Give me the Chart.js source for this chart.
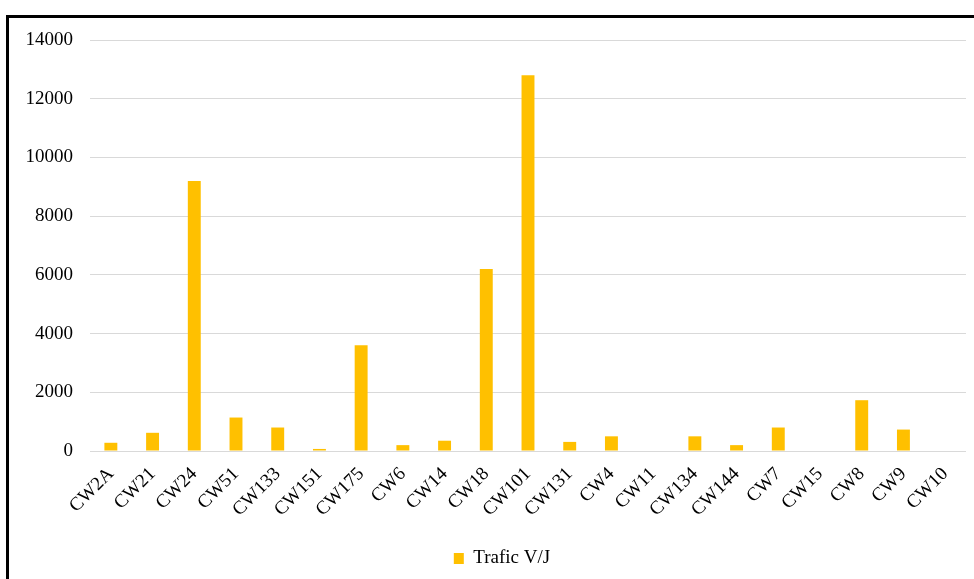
<!DOCTYPE html>
<html>
<head>
<meta charset="utf-8">
<script src="https://cdn.jsdelivr.net/npm/chart.js@4"></script>
<style>
  html, body { margin: 0; padding: 0; background: #fff; overflow: hidden; }
  #frame {
    position: absolute; left: 6px; top: 15px;
    width: 1200px; height: 800px;
    border-left: 3px solid #000; border-top: 3px solid #000;
  }
  #wrap { position: absolute; left: 0; top: 0; width: 974px; height: 579px; }
</style>
</head>
<body>
<div id="frame"></div>
<div id="wrap"><canvas id="chart"></canvas></div>
<script>
// Traffic per station (vehicles/day)
const stations = ["CW2A", "CW21", "CW24", "CW51", "CW133", "CW151", "CW175", "CW6", "CW14", "CW18",
  "CW101", "CW131", "CW4", "CW11", "CW134", "CW144", "CW7", "CW15", "CW8", "CW9", "CW10"];
const trafic = [280, 620, 9200, 1140, 800, 70, 3600, 200, 350, 6200,
  12800, 310, 500, 0, 500, 200, 800, 0, 1730, 730, 0];
const yTicks = [0, 2000, 4000, 6000, 8000, 10000, 12000, 14000];

const font = { family: "'Liberation Serif', 'Times New Roman', serif", size: 19 };

// nudge the legend so it sits centred under the plot rather than the canvas
const legendShift = {
  id: "legendShift",
  afterLayout(chart) {
    chart.legend.left += 19;
    chart.legend.right += 19;
  },
};

new Chart(document.getElementById("chart"), {
  type: "bar",
  data: {
    labels: stations,
    datasets: [{
      label: "Trafic V/J",
      data: trafic,
      backgroundColor: "#FFC000",
      borderWidth: 0,
      categoryPercentage: 1,
      barPercentage: 0.31,
    }],
  },
  options: {
    responsive: true,
    maintainAspectRatio: false,
    animation: false,
    layout: { padding: { top: 40, right: 8, left: 0, bottom: 1 } },
    scales: {
      x: {
        grid: { display: false },
        border: { display: false },
        ticks: { color: "#000", font: font, maxRotation: 45, minRotation: 45, autoSkip: false, padding: 4 },
        afterFit: (scale) => { scale.height = 88; },
      },
      y: {
        min: 0,
        max: 14000,
        afterBuildTicks: (scale) => { scale.ticks = yTicks.map((v) => ({ value: v })); },
        grid: { color: "#d9d9d9", lineWidth: 1, drawTicks: false },
        border: { display: false },
        ticks: { color: "#000", font: font, padding: 17, callback: (v) => String(v) },
        afterFit: (scale) => { scale.width = 90; },
      },
    },
    plugins: {
      legend: {
        position: "bottom",
        labels: { color: "#000", font: font, boxWidth: 10, boxHeight: 11, padding: 10 },
      },
      tooltip: { enabled: false },
    },
  },
  plugins: [legendShift],
});
</script>
</body>
</html>
